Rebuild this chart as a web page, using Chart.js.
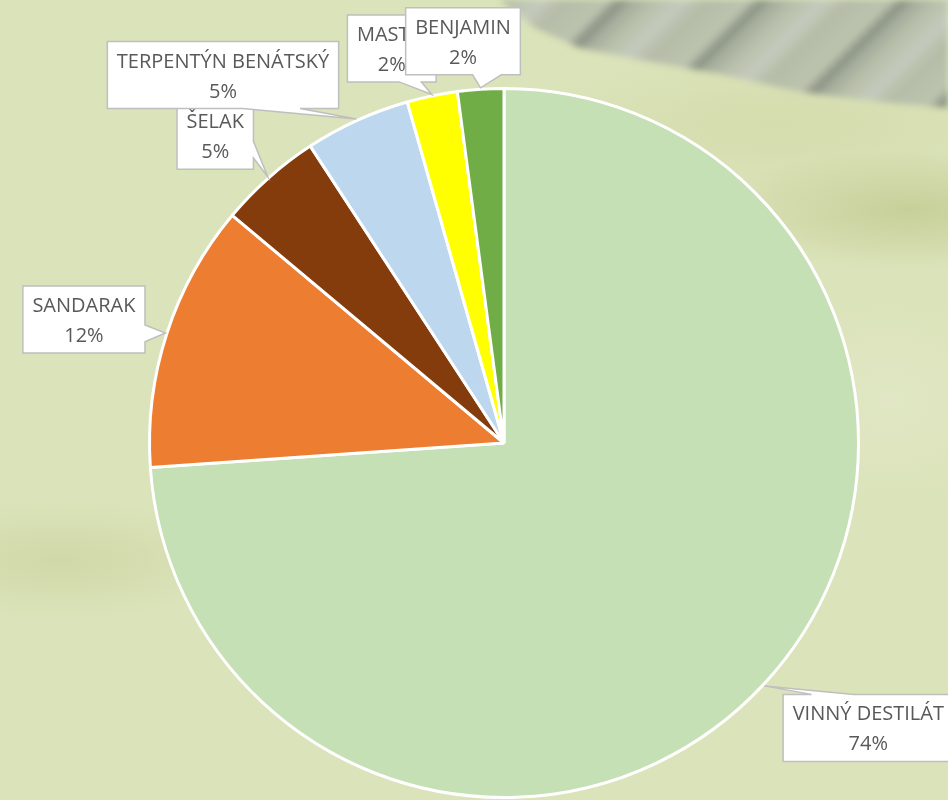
<!DOCTYPE html>
<html><head><meta charset="utf-8">
<script src="https://cdn.jsdelivr.net/npm/chart.js@4"></script>
<style>
html,body{margin:0;padding:0;}
body{width:948px;height:800px;overflow:hidden;position:relative;background:#dbe2b9;}
#bg{position:absolute;left:0;top:0;width:948px;height:800px;background:
 radial-gradient(ellipse 200px 60px at 910px 210px, rgba(192,200,142,0.75), rgba(192,200,142,0) 100%),
 radial-gradient(ellipse 180px 60px at 60px 560px, rgba(204,211,160,0.7), rgba(204,211,160,0) 100%),
 radial-gradient(ellipse 150px 110px at 890px 400px, rgba(228,233,202,0.6), rgba(228,233,202,0) 100%),
 radial-gradient(ellipse 280px 80px at 780px 125px, rgba(210,218,168,0.7), rgba(210,218,168,0) 100%),
 #dbe3ba;}
#roofwrap{position:absolute;left:0;top:0;width:948px;height:140px;filter:blur(3px);}
#roof{position:absolute;left:0;top:0;width:948px;height:140px;
 clip-path:polygon(500px 0, 948px 0, 948px 108px, 880px 102px, 800px 92px, 720px 74px, 640px 60px, 580px 48px, 535px 28px);
 background:repeating-linear-gradient(135deg, #b5bca7 0px, #bcc3ae 30px, #8a9283 40px, #a4ac9b 48px, #b8bfaa 64px, #c5cbbd 84px, #b5bca7 100px);}
#wrap{position:absolute;left:0;top:0;width:948px;height:800px;}
</style>
</head>
<body>
<div id="bg"></div>
<div id="roofwrap"><div id="roof"></div></div>
<div id="wrap"><canvas id="c" width="948" height="800"></canvas></div>
<script>
// ---- data ----
const labels = ['VINNÝ DESTILÁT', 'SANDARAK', 'ŠELAK', 'TERPENTÝN BENÁTSKÝ', 'MASTIX', 'BENJAMIN'];
const values = [73.9, 12.2, 4.7, 4.8, 2.3, 2.1];
const colors = ['#C5E0B4', '#ED7D31', '#843C0C', '#BDD7EE', '#FFFF00', '#70AD47'];

// ---- callout layout (offset of box centre from the slice's anchor point) ----
const calloutOffsets = [[104, 42], [-81.5, -13.5], [-52.5, -41], [-133.5, -44], [-40, -46], [-17.5, -46.5]];

function drawCallout(ctx, x, y, w, h, tx, ty) {
  const hc = x + w / 2, vc = y + h / 2;
  const dx = tx - hc, dy = ty - vc;
  const dq = dx * h / w;
  const vert = Math.abs(dy) > Math.abs(dq);
  const x1 = x + w * (dx > 0 ? 7 : 2) / 12, x2 = x + w * (dx > 0 ? 10 : 5) / 12;
  const y1 = y + h * (dy > 0 ? 7 : 2) / 12, y2 = y + h * (dy > 0 ? 10 : 5) / 12;
  ctx.beginPath();
  ctx.moveTo(x, y);
  if (vert && dy < 0) { ctx.lineTo(x1, y); ctx.lineTo(tx, ty); ctx.lineTo(x2, y); }
  ctx.lineTo(x + w, y);
  if (!vert && dx > 0) { ctx.lineTo(x + w, y1); ctx.lineTo(tx, ty); ctx.lineTo(x + w, y2); }
  ctx.lineTo(x + w, y + h);
  if (vert && dy > 0) { ctx.lineTo(x2, y + h); ctx.lineTo(tx, ty); ctx.lineTo(x1, y + h); }
  ctx.lineTo(x, y + h);
  if (!vert && dx < 0) { ctx.lineTo(x, y2); ctx.lineTo(tx, ty); ctx.lineTo(x, y1); }
  ctx.closePath();
  ctx.fillStyle = '#FFFFFF';
  ctx.fill();
  ctx.lineWidth = 1.5;
  ctx.strokeStyle = '#BFBFBF';
  ctx.stroke();
}

const calloutPlugin = {
  id: 'callouts',
  afterDatasetsDraw(chart) {
    const ctx = chart.ctx;
    const meta = chart.getDatasetMeta(0);
    const total = values.reduce((a, b) => a + b, 0);
    ctx.save();
    ctx.font = '20px "Open Sans"';
    meta.data.forEach((arc, i) => {
      const p = arc.getProps(['x', 'y', 'startAngle', 'endAngle', 'outerRadius'], true);
      const mid = (p.startAngle + p.endAngle) / 2;
      const r = p.outerRadius + 1.5;
      const tx = p.x + Math.cos(mid) * r, ty = p.y + Math.sin(mid) * r;
      const lines = [labels[i], Math.round(values[i] / total * 100) + '%'];
      const tw = Math.max(...lines.map(l => ctx.measureText(l).width));
      const w = tw + 19, h = 67;
      const cx = tx + calloutOffsets[i][0], cy = ty + calloutOffsets[i][1];
      drawCallout(ctx, cx - w / 2, cy - h / 2, w, h, tx, ty);
      ctx.fillStyle = '#595959';
      ctx.textAlign = 'center';
      ctx.textBaseline = 'alphabetic';
      ctx.fillText(lines[0], cx, cy - 7.5);
      ctx.fillText(lines[1], cx, cy + 22.5);
    });
    ctx.restore();
  }
};

function build() {
  new Chart(document.getElementById('c'), {
    type: 'pie',
    data: {
      labels: labels,
      datasets: [{
        data: values,
        backgroundColor: colors,
        borderColor: '#FFFFFF',
        borderWidth: 3
      }]
    },
    options: {
      responsive: false,
      animation: false,
      layout: { padding: { left: 148, right: 88, top: 87, bottom: 1 } },
      plugins: { legend: { display: false }, tooltip: { enabled: false } }
    },
    plugins: [calloutPlugin]
  });
}
if (document.fonts && document.fonts.load) {
  document.fonts.load('20px "Open Sans"').then(build, build);
} else { build(); }
</script>
</body></html>
